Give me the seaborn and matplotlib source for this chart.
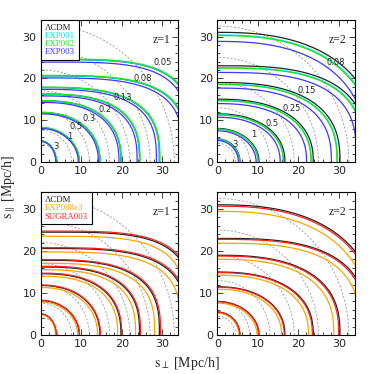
""" Redshift-space correlation function contours, xi(s_perp, s_par) """

import numpy as np
import matplotlib
matplotlib.use("Agg")
import matplotlib.pyplot as plt
import seaborn as sns
from matplotlib.lines import Line2D
from matplotlib.ticker import MultipleLocator


# contour levels and the shape of each contour:
# a = crossing of the s_perp axis, b = crossing of the s_par axis, p = squareness
levels_z1 = [3, 1, 0.5, 0.3, 0.2, 0.13, 0.08, 0.05]
a_z1 = [3.8, 9.5, 14.6, 19.8, 24.4, 29.3, 36.0, 37.5]
b_z1 = [5.0, 8.2, 11.8, 14.6, 16.2, 17.8, 20.6, 24.5]
p_z1 = [2.0, 2.0, 2.2, 2.5, 2.8, 3.0, 3.5, 4.0]

levels_z2 = [3, 1, 0.5, 0.25, 0.15, 0.08, 0.05]
a_z2 = [5.6, 10.3, 16.7, 23.7, 30.3, 37.0, 40.0]
b_z2 = [5.5, 8.0, 11.5, 15.0, 19.0, 23.0, 31.0]
p_z2 = [2.0, 2.0, 2.2, 2.4, 2.6, 3.0, 2.5]

# real-space xi(r) contours (dashed circles), radii in Mpc/h
arcs_z1 = [4.2, 7.6, 12.0, 17.0, 22.0, 27.0, 33.0]
arcs_z2 = [4.5, 8.0, 13.0, 19.0, 25.0, 32.5]

# models and how much their contours are shrunk/stretched w.r.t. LCDM
models_top = ["ΛCDM", "EXP001", "EXP002", "EXP003"]
colors_top = ["#222222", "#00e5e5", "#22e022", "#3a3aff"]
scale_top_z1 = [1.0, 1.0, 1.005, 0.975]
scale_top_z2 = [1.0, 0.98, 0.975, 0.93]

models_bot = ["ΛCDM", "EXP008e3", "SUGRA003"]
colors_bot = ["#222222", "#ffa500", "#ff2020"]
scale_bot_z1 = [1.0, 0.96, 1.01]
scale_bot_z2 = [1.0, 0.95, 0.99]

# contour label texts and where they sit (top panels only)
labels_z1 = ["3", "1", "0.5", "0.3", "0.2", "0.13", "0.08", "0.05"]
labpos_z1 = [(3.8, 3.7), (7.1, 6.0), (8.8, 8.5), (11.9, 10.5), (15.8, 12.5),
             (20.3, 15.3), (25.3, 19.9), (30.2, 23.8)]
labels_z2 = ["3", "1", "0.5", "0.25", "0.15", "0.08"]
labpos_z2 = [(4.4, 4.1), (8.9, 6.5), (13.6, 9.2), (18.3, 12.9), (22.1, 17.2),
             (29.2, 23.9)]


def xi_field(levels, a, b, p, scale, s):
    """ log(xi) on the grid, piecewise linear in r between the contours """
    X, Y = np.meshgrid(s, s)
    r = np.hypot(X, Y)
    th = np.arctan2(Y, X)
    a = np.asarray(a)[:, None, None] * scale
    b = np.asarray(b)[:, None, None] * scale
    p = np.asarray(p)[:, None, None]
    c = np.abs(np.cos(th))[None]
    sn = np.abs(np.sin(th))[None]
    R = ((c / a) ** p + (sn / b) ** p) ** (-1.0 / p)
    logl = np.log(levels)
    n = len(levels)
    idx = (r[None] > R).sum(0)
    lo = np.clip(idx - 1, 0, n - 2)
    hi = lo + 1
    r_lo = np.take_along_axis(R, lo[None], 0)[0]
    r_hi = np.take_along_axis(R, hi[None], 0)[0]
    frac = (r - r_lo) / (r_hi - r_lo)
    return logl[lo] + frac * (logl[hi] - logl[lo])


sns.set_style("ticks")
plt.rcParams["font.family"] = ["Liberation Serif", "DejaVu Serif"]
plt.rcParams["mathtext.fontset"] = "stix"

fig = plt.figure(figsize=(3.74, 3.74), dpi=100)
ax_tl = fig.add_axes([0.109, 0.567, 0.368, 0.380])
ax_tr = fig.add_axes([0.581, 0.567, 0.368, 0.380])
ax_bl = fig.add_axes([0.109, 0.104, 0.368, 0.382])
ax_br = fig.add_axes([0.581, 0.104, 0.368, 0.382])

panels = [
    (ax_tl, "z=1", levels_z1, a_z1, b_z1, p_z1, arcs_z1, models_top, colors_top,
     scale_top_z1, labels_z1, labpos_z1, True),
    (ax_tr, "z=2", levels_z2, a_z2, b_z2, p_z2, arcs_z2, models_top, colors_top,
     scale_top_z2, labels_z2, labpos_z2, False),
    (ax_bl, "z=1", levels_z1, a_z1, b_z1, p_z1, arcs_z1, models_bot, colors_bot,
     scale_bot_z1, [], [], True),
    (ax_br, "z=2", levels_z2, a_z2, b_z2, p_z2, arcs_z2, models_bot, colors_bot,
     scale_bot_z2, [], [], False),
]

s = np.linspace(0, 34.5, 400)
phi = np.linspace(0, np.pi / 2, 200)

for (ax, ztext, levels, a, b, p, arcs, models, colors, scales,
     labs, labpos, with_legend) in panels:
    # dashed real-space circles
    for rad in arcs:
        ax.plot(rad * np.cos(phi), rad * np.sin(phi), color="#999999",
                lw=0.6, ls=(0, (2.5, 2)), zorder=1)

    for model, color, scale in zip(models, colors, scales):
        field = xi_field(levels, a, b, p, scale, s)
        ax.contour(s, s, field, levels=np.sort(np.log(levels)),
                   colors=color, linewidths=0.9, linestyles="solid",
                   zorder=2)

    for txt, (tx, ty) in zip(labs, labpos):
        ax.text(tx, ty, txt, fontsize=6, family="DejaVu Sans",
                ha="center", va="center", zorder=3)

    ax.text(0.94, 0.86, ztext, transform=ax.transAxes, ha="right",
            va="center", fontsize=8.5)

    if with_legend:
        handles = [Line2D([], [], lw=0, color=c) for c in colors]
        leg = ax.legend(handles, models, loc="upper left", borderaxespad=0,
                        handlelength=0, handletextpad=0, labelcolor=colors,
                        prop={"family": "Liberation Serif", "size": 6.3},
                        frameon=True, fancybox=False, edgecolor="black",
                        framealpha=1, borderpad=0.45, labelspacing=0.0)
        leg.get_frame().set_linewidth(0.8)
        leg.set_zorder(5)

    ax.set_xlim(0, 34)
    ax.set_ylim(0, 34)
    ax.xaxis.set_major_locator(MultipleLocator(10))
    ax.yaxis.set_major_locator(MultipleLocator(10))
    ax.xaxis.set_minor_locator(MultipleLocator(2))
    ax.yaxis.set_minor_locator(MultipleLocator(2))
    ax.tick_params(which="both", direction="in", top=True, right=True,
                   width=0.6, labelsize=8, pad=3)
    ax.tick_params(which="major", length=4)
    ax.tick_params(which="minor", length=2)
    for lab in ax.get_xticklabels() + ax.get_yticklabels():
        lab.set_family("DejaVu Sans")
    for spine in ax.spines.values():
        spine.set_linewidth(0.8)
        spine.set_color("black")

fig.text(0.025, 0.5, r"$\mathrm{s}_{\parallel}$ [Mpc/h]", rotation=90,
         ha="center", va="center", fontsize=10)
fig.text(0.5, 0.027, r"$\mathrm{s}_{\perp}$ [Mpc/h]", ha="center",
         va="center", fontsize=10)

fig.savefig("out.png", dpi=100)
